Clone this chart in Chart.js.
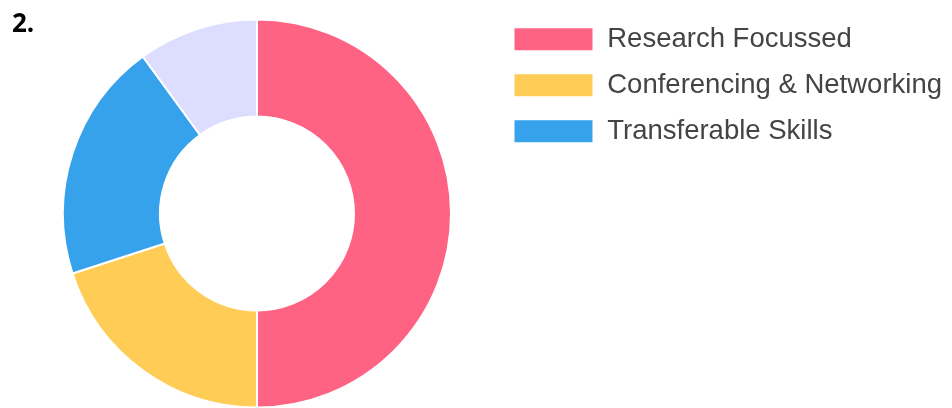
<!DOCTYPE html>
<html>
<head>
<meta charset="utf-8">
<script src="https://cdn.jsdelivr.net/npm/chart.js@4/dist/chart.umd.min.js"></script>
<style>
  html, body { margin: 0; padding: 0; background: #fff; overflow: hidden; }
  #num { position: absolute; left: 12px; top: 4px; font: bold 26px "Open Sans", "Liberation Sans", sans-serif; color: #000; z-index: 2; }
  #wrap { position: absolute; left: 0; top: 0; width: 952px; height: 420px; }
</style>
</head>
<body>
<div id="num">2.</div>
<div id="wrap"><canvas id="mycanvas"></canvas></div>
<script>
var labels = ["Research Focussed", "Conferencing & Networking", "Transferable Skills", ""];
var values = [50, 20, 20, 10];
var colours = ["rgb(255,99,132)", "rgb(255,205,86)", "rgb(54,162,235)", "rgb(221,221,255)"];

var ctx = document.getElementById("mycanvas").getContext("2d");
var donut = new Chart(ctx, {
    type: 'doughnut',
    data: {
        labels: labels,
        datasets: [{
            data: values,
            backgroundColor: colours,
            borderColor: '#fff',
            borderWidth: 2
        }]
    },
    options: {
        responsive: true,
        maintainAspectRatio: false,
        animation: false,
        radius: 194,
        cutout: '50%',
        layout: { padding: { top: 7, bottom: 0, left: 19, right: 0 } },
        plugins: {
            tooltip: { enabled: false },
            legend: {
                position: 'right',
                align: 'start',
                labels: {
                    boxWidth: 80,
                    boxHeight: 24,
                    padding: 18.5,
                    color: '#444',
                    font: { family: "'Liberation Sans', Arial, sans-serif", size: 27.5 },
                    filter: function(item) { return item.text !== ""; }
                }
            }
        }
    }
});
</script>
</body>
</html>
